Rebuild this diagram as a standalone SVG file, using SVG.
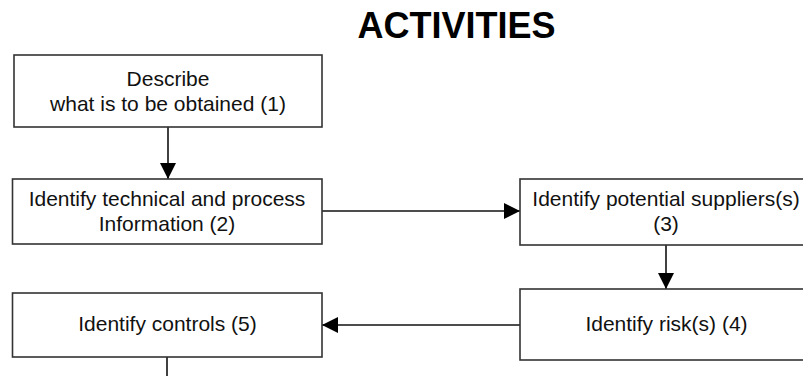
<svg xmlns="http://www.w3.org/2000/svg" width="803" height="376" viewBox="0 0 803 376">
<style>
.box{fill:#fff;stroke:#333;stroke-width:1.6}
.t{font-family:"Liberation Sans",Arial,sans-serif;font-size:21px;fill:#111;text-anchor:middle}
.title{font-family:"Liberation Sans",Arial,sans-serif;font-size:36px;font-weight:bold;fill:#000;text-anchor:middle}
.c{fill:none;stroke:#111;stroke-width:1.6}
</style>
<defs>
<marker id="ah" viewBox="0 0 16 16" refX="16" refY="8" markerWidth="16" markerHeight="16" markerUnits="userSpaceOnUse" orient="auto">
<path d="M0,0 L16,8 L0,16 Z" fill="#000"/>
</marker>
</defs>
<rect width="803" height="376" fill="#fff"/>
<text class="title" x="456.5" y="38">ACTIVITIES</text>
<g id="connectors">
<path class="c" d="M168,127 L168,179" marker-end="url(#ah)"/>
<path class="c" d="M322,211 L520,211" marker-end="url(#ah)"/>
<path class="c" d="M666,245 L666,289" marker-end="url(#ah)"/>
<path class="c" d="M520,325 L322,325" marker-end="url(#ah)"/>
<path class="c" d="M167,357 L167,376"/>
</g>
<g id="n1">
<rect class="box" x="14" y="55" width="308" height="72"/>
<text class="t" x="168" y="85.5">Describe</text>
<text class="t" x="168" y="110.5">what is to be obtained (1)</text>
</g>
<g id="n2">
<rect class="box" x="12.5" y="179" width="309.5" height="65"/>
<text class="t" x="167" y="205.5">Identify technical and process</text>
<text class="t" x="167" y="231">Information (2)</text>
</g>
<g id="n3">
<rect class="box" x="520" y="179" width="300" height="66"/>
<text class="t" x="666" y="205.5">Identify potential suppliers(s)</text>
<text class="t" x="666" y="231">(3)</text>
</g>
<g id="n4">
<rect class="box" x="520" y="289" width="300" height="71"/>
<text class="t" x="666.5" y="331">Identify risk(s) (4)</text>
</g>
<g id="n5">
<rect class="box" x="12.5" y="293" width="309.5" height="64"/>
<text class="t" x="167.5" y="331">Identify controls (5)</text>
</g>
</svg>
